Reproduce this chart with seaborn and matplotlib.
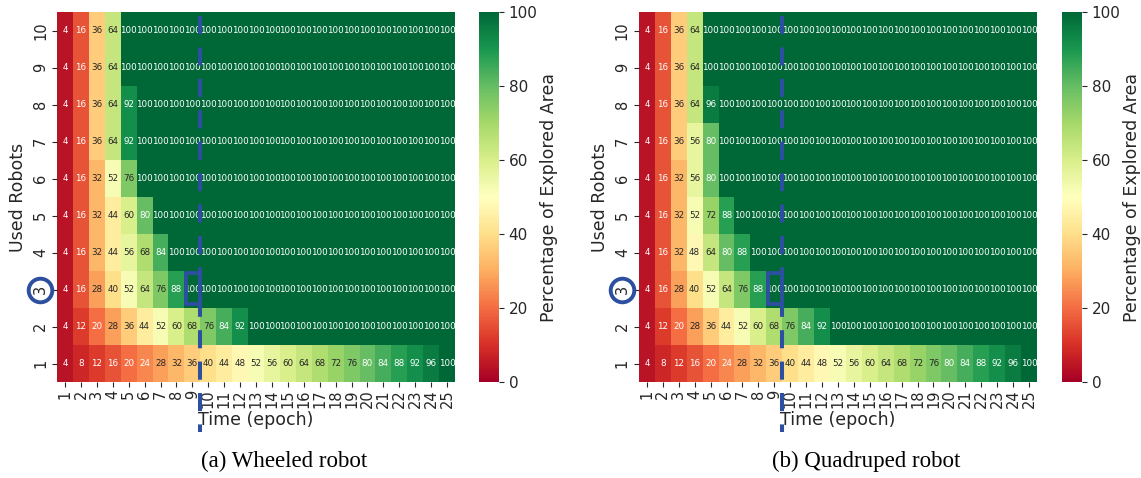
# =====================================================
# Explored area heatmaps: wheeled vs quadruped robots
# =====================================================

import numpy as np
import pandas as pd
import matplotlib
matplotlib.use("Agg")
import matplotlib.pyplot as plt
import seaborn as sns
from matplotlib.patches import Rectangle


# -------------------------------
# Data (rows = used robots 1..10, cols = epoch 1..25)
# -------------------------------

epochs = list(range(1, 26))
robots = list(range(1, 11))

wheeled = [
    [4, 8, 12, 16, 20, 24, 28, 32, 36, 40, 44, 48, 52, 56, 60, 64, 68, 72, 76, 80, 84, 88, 92, 96, 100],
    [4, 12, 20, 28, 36, 44, 52, 60, 68, 76, 84, 92, 100, 100, 100, 100, 100, 100, 100, 100, 100, 100, 100, 100, 100],
    [4, 16, 28, 40, 52, 64, 76, 88, 100, 100, 100, 100, 100, 100, 100, 100, 100, 100, 100, 100, 100, 100, 100, 100, 100],
    [4, 16, 32, 44, 56, 68, 84, 100, 100, 100, 100, 100, 100, 100, 100, 100, 100, 100, 100, 100, 100, 100, 100, 100, 100],
    [4, 16, 32, 44, 60, 80, 100, 100, 100, 100, 100, 100, 100, 100, 100, 100, 100, 100, 100, 100, 100, 100, 100, 100, 100],
    [4, 16, 32, 52, 76, 100, 100, 100, 100, 100, 100, 100, 100, 100, 100, 100, 100, 100, 100, 100, 100, 100, 100, 100, 100],
    [4, 16, 36, 64, 92, 100, 100, 100, 100, 100, 100, 100, 100, 100, 100, 100, 100, 100, 100, 100, 100, 100, 100, 100, 100],
    [4, 16, 36, 64, 92, 100, 100, 100, 100, 100, 100, 100, 100, 100, 100, 100, 100, 100, 100, 100, 100, 100, 100, 100, 100],
    [4, 16, 36, 64, 100, 100, 100, 100, 100, 100, 100, 100, 100, 100, 100, 100, 100, 100, 100, 100, 100, 100, 100, 100, 100],
    [4, 16, 36, 64, 100, 100, 100, 100, 100, 100, 100, 100, 100, 100, 100, 100, 100, 100, 100, 100, 100, 100, 100, 100, 100],
]

quadruped = [
    [4, 8, 12, 16, 20, 24, 28, 32, 36, 40, 44, 48, 52, 56, 60, 64, 68, 72, 76, 80, 84, 88, 92, 96, 100],
    [4, 12, 20, 28, 36, 44, 52, 60, 68, 76, 84, 92, 100, 100, 100, 100, 100, 100, 100, 100, 100, 100, 100, 100, 100],
    [4, 16, 28, 40, 52, 64, 76, 88, 100, 100, 100, 100, 100, 100, 100, 100, 100, 100, 100, 100, 100, 100, 100, 100, 100],
    [4, 16, 32, 48, 64, 80, 88, 100, 100, 100, 100, 100, 100, 100, 100, 100, 100, 100, 100, 100, 100, 100, 100, 100, 100],
    [4, 16, 32, 52, 72, 88, 100, 100, 100, 100, 100, 100, 100, 100, 100, 100, 100, 100, 100, 100, 100, 100, 100, 100, 100],
    [4, 16, 32, 56, 80, 100, 100, 100, 100, 100, 100, 100, 100, 100, 100, 100, 100, 100, 100, 100, 100, 100, 100, 100, 100],
    [4, 16, 36, 56, 80, 100, 100, 100, 100, 100, 100, 100, 100, 100, 100, 100, 100, 100, 100, 100, 100, 100, 100, 100, 100],
    [4, 16, 36, 64, 96, 100, 100, 100, 100, 100, 100, 100, 100, 100, 100, 100, 100, 100, 100, 100, 100, 100, 100, 100, 100],
    [4, 16, 36, 64, 100, 100, 100, 100, 100, 100, 100, 100, 100, 100, 100, 100, 100, 100, 100, 100, 100, 100, 100, 100, 100],
    [4, 16, 36, 64, 100, 100, 100, 100, 100, 100, 100, 100, 100, 100, 100, 100, 100, 100, 100, 100, 100, 100, 100, 100, 100],
]

captions = ["(a) Wheeled robot", "(b) Quadruped robot"]

highlight_robot = 3
highlight_epoch = 9

BLUE = "#2c4f9f"
TEXT = "#262626"


# -------------------------------
# Draw one panel
# -------------------------------

def draw_panel(fig, ax, cax, values, caption, caption_x):
    df = pd.DataFrame(values, index=robots, columns=epochs).iloc[::-1]

    sns.heatmap(df, ax=ax, cbar_ax=cax, cmap="RdYlGn", vmin=0, vmax=100,
                annot=True, fmt="d", annot_kws={"size": 6.3})

    ax.set_xlabel("Time (epoch)", fontsize=12.5, labelpad=2, color=TEXT)
    ax.set_ylabel("Used Robots", fontsize=12.5, labelpad=4, color=TEXT)
    ax.tick_params(axis="x", labelsize=10.5, rotation=90, pad=2,
                   colors=TEXT)
    ax.tick_params(axis="y", labelsize=10.5, rotation=90, pad=3,
                   colors=TEXT)
    for lbl in ax.get_yticklabels():
        lbl.set_va("center")

    cax.set_yticks([0, 20, 40, 60, 80, 100])
    cax.tick_params(labelsize=11, colors=TEXT)
    cax.set_ylabel("Percentage of Explored Area", fontsize=12.5,
                   labelpad=2, color=TEXT)

    # row position of the highlighted robot count (top row = 10 robots)
    row = list(df.index).index(highlight_robot)

    # dashed divider between epoch 9 and 10
    ax.plot([highlight_epoch, highlight_epoch], [0.1, 11.35], color=BLUE,
            lw=2.9, linestyle=(0, (4.5, 3.3)), clip_on=False, zorder=5)

    # bracket box around the saturated cell
    ax.add_patch(Rectangle((highlight_epoch - 0.92, row + 0.06), 0.92, 0.84,
                           fill=False, edgecolor=BLUE, lw=2.8, zorder=6))

    # circle around the tick label
    ax.plot([-1.07], [row + 0.5], marker="o", ms=17, mfc="none", mec=BLUE,
            mew=2.8, clip_on=False, zorder=6)

    # sub-figure caption, centred on the whole panel
    fig.text(caption_x, 0.034, caption, ha="center", va="center",
             fontsize=16.5, family="Liberation Serif")


# =====================================================
# Figure
# =====================================================

fig = plt.figure(figsize=(11.41, 4.78), dpi=100)

ax1 = fig.add_axes([0.0500, 0.2008, 0.3488, 0.774])
cax1 = fig.add_axes([0.4198, 0.2008, 0.0175, 0.774])
ax2 = fig.add_axes([0.5600, 0.2008, 0.3488, 0.774])
cax2 = fig.add_axes([0.9308, 0.2008, 0.0175, 0.774])

draw_panel(fig, ax1, cax1, wheeled, captions[0], 0.249)
draw_panel(fig, ax2, cax2, quadruped, captions[1], 0.759)

fig.savefig("out.png", dpi=100)
